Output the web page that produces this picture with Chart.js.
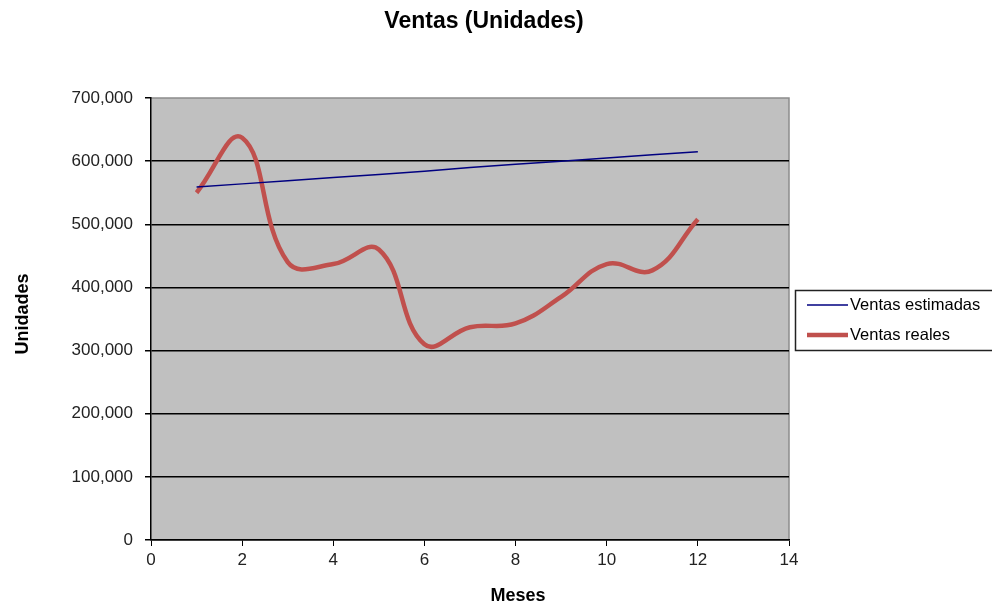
<!DOCTYPE html>
<html>
<head>
<meta charset="utf-8">
<title>Ventas (Unidades)</title>
<script src="https://cdn.jsdelivr.net/npm/chart.js@4/dist/chart.umd.min.js"></script>
<style>
  html, body { margin: 0; padding: 0; background: #fff; }
  #wrap { width: 992px; height: 610px; }
</style>
</head>
<body>
<div id="wrap"><canvas id="ventas_chart" width="992" height="610"></canvas></div>
<script>
// months on the x axis
var meses = [1, 2, 3, 4, 5, 6, 7, 8, 9, 10, 11, 12];
// sales estimate (trend) and real sales, in units
var ventasEstimadas = [559000, 564000, 569000, 574000, 579000, 584000, 590000, 595000, 600000, 605000, 610000, 615000];
var ventasReales = [550000, 637000, 440000, 437000, 460000, 310000, 337000, 343000, 385000, 437000, 427000, 508000];
var seriesLabels = ["Ventas estimadas", "Ventas reales"];
var yTicks = [0, 100000, 200000, 300000, 400000, 500000, 600000, 700000];
var xTicks = [0, 2, 4, 6, 8, 10, 12, 14];

var FONT = "'Liberation Sans', Arial, sans-serif";

function toPoints(values) {
  return values.map(function(v, i) { return { x: meses[i], y: v }; });
}

// grey plot area with the lighter top/right frame
var plotBackground = {
  id: 'plotBackground',
  beforeDraw: function(chart) {
    var ctx = chart.ctx, a = chart.chartArea;
    ctx.save();
    ctx.fillStyle = '#c0c0c0';
    ctx.fillRect(a.left, a.top, a.right - a.left, a.bottom - a.top);
    ctx.strokeStyle = '#8c8c8c';
    ctx.lineWidth = 1.5;
    ctx.beginPath();
    ctx.moveTo(a.left, a.top);
    ctx.lineTo(a.right, a.top);
    ctx.lineTo(a.right, a.bottom);
    ctx.stroke();
    ctx.restore();
  }
};

// chart title, axis titles and the boxed legend
var chartText = {
  id: 'chartText',
  afterDraw: function(chart) {
    var ctx = chart.ctx;
    ctx.save();
    ctx.fillStyle = '#000';
    ctx.textAlign = 'center';
    ctx.textBaseline = 'middle';

    ctx.font = 'bold 23px ' + FONT;
    ctx.fillText('Ventas (Unidades)', 484, 22);

    ctx.font = 'bold 18px ' + FONT;
    ctx.fillText('Meses', 518, 596);

    ctx.save();
    ctx.translate(23, 314);
    ctx.rotate(-Math.PI / 2);
    ctx.fillText('Unidades', 0, 0);
    ctx.restore();

    // legend
    ctx.strokeStyle = '#222';
    ctx.lineWidth = 1.5;
    ctx.strokeRect(795.5, 290.5, 220, 60);
    ctx.textAlign = 'left';
    ctx.font = '16.5px ' + FONT;
    chart.data.datasets.forEach(function(ds, i) {
      var y = 305 + i * 30;
      ctx.strokeStyle = ds.borderColor;
      ctx.lineWidth = ds.borderWidth;
      ctx.beginPath();
      ctx.moveTo(807, y);
      ctx.lineTo(848, y);
      ctx.stroke();
      ctx.fillStyle = '#000';
      ctx.fillText(ds.label, 850, y);
    });
    ctx.restore();
  }
};

var chart = new Chart("ventas_chart", {
  type: 'line',
  data: {
    datasets: [{
      label: seriesLabels[0],
      data: toPoints(ventasEstimadas),
      borderColor: '#000080',
      borderWidth: 1.5,
      pointRadius: 0,
      tension: 0,
      fill: false
    }, {
      label: seriesLabels[1],
      data: toPoints(ventasReales),
      borderColor: '#c0504d',
      borderWidth: 4.5,
      pointRadius: 0,
      tension: 0.42,
      fill: false
    }]
  },
  options: {
    responsive: false,
    animation: false,
    layout: { padding: { top: 98, right: 203, bottom: 0, left: 0 } },
    plugins: {
      legend: { display: false },
      title: { display: false },
      tooltip: { enabled: false }
    },
    scales: {
      x: {
        type: 'linear',
        min: 0,
        max: 14,
        afterFit: function(scale) { scale.height = 70; },
        afterBuildTicks: function(scale) {
          scale.ticks = xTicks.map(function(v) { return { value: v }; });
        },
        ticks: {
          color: '#222',
          font: { family: FONT, size: 17 },
          padding: 4,
          maxRotation: 0
        },
        grid: {
          drawOnChartArea: false,
          drawTicks: true,
          tickLength: 6,
          tickColor: '#000'
        },
        border: { color: '#000', width: 1.5 }
      },
      y: {
        min: 0,
        max: 700000,
        afterFit: function(scale) { scale.width = 151; },
        afterBuildTicks: function(scale) {
          scale.ticks = yTicks.map(function(v) { return { value: v }; });
        },
        ticks: {
          color: '#222',
          font: { family: FONT, size: 17 },
          padding: 12,
          callback: function(v) { return v.toLocaleString('en-US'); }
        },
        grid: {
          color: function(c) { return c.tick && c.tick.value === 700000 ? 'rgba(0,0,0,0)' : '#000'; },
          lineWidth: 1.5,
          tickLength: 6,
          tickColor: '#000'
        },
        border: { color: '#000', width: 1.5 }
      }
    }
  },
  plugins: [plotBackground, chartText]
});
</script>
</body>
</html>
